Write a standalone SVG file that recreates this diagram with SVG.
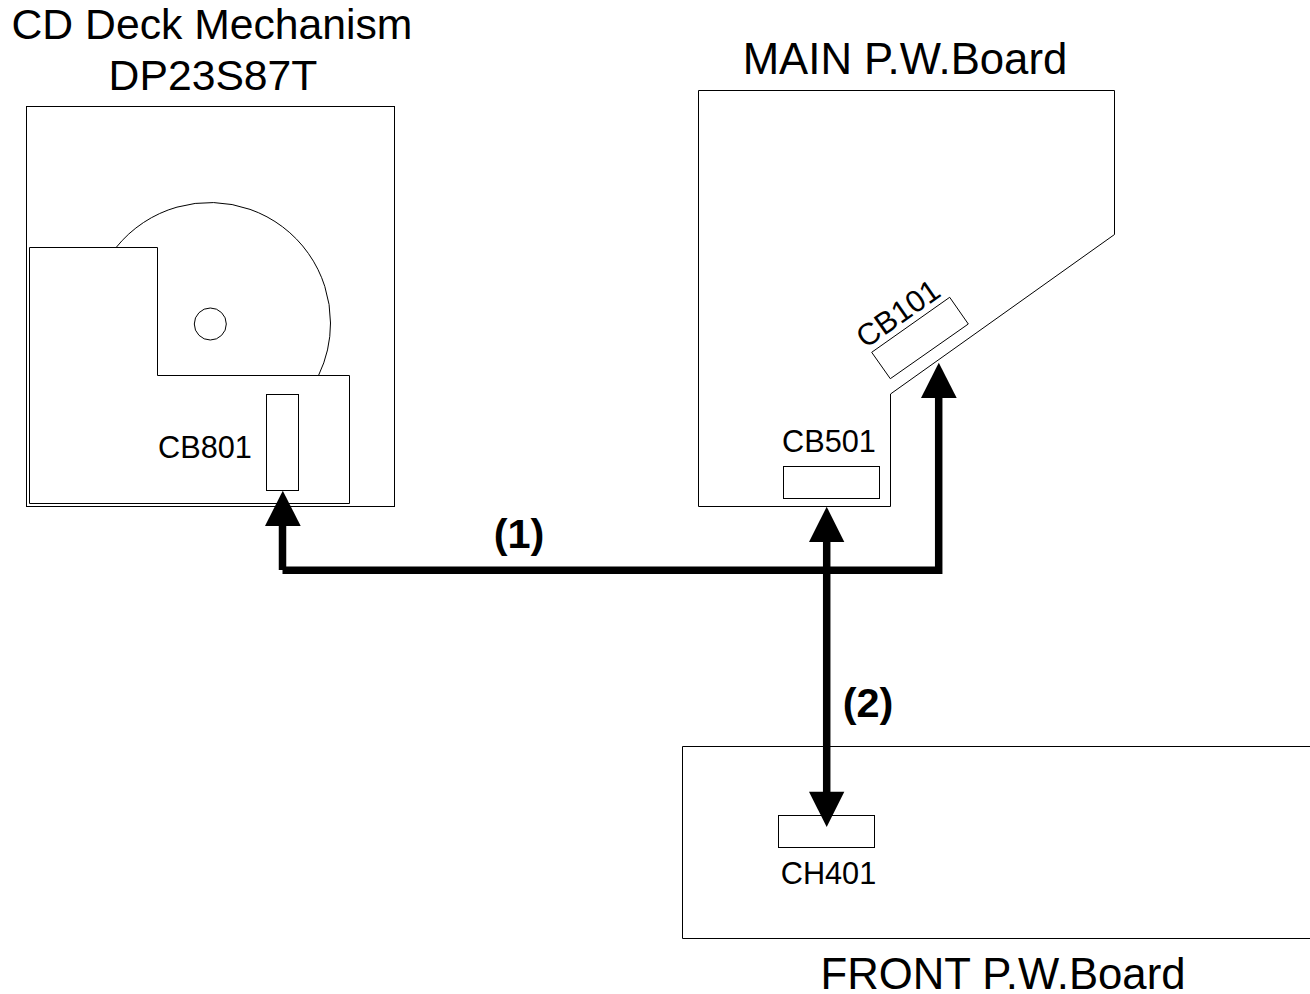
<svg xmlns="http://www.w3.org/2000/svg" width="1310" height="994" viewBox="0 0 1310 994">
<style>
.o{fill:none;stroke:#000;stroke-width:1}
.c{stroke:#000;stroke-width:7.500;fill:none}
.a{fill:#000;stroke:none}
text{font-family:"Liberation Sans",Arial,sans-serif;fill:#000}
.t{font-size:43.700px;text-anchor:middle}
.d{font-size:42.700px;text-anchor:middle}
.s{font-size:30.700px;text-anchor:middle}
.b{font-size:41.500px;font-weight:bold;text-anchor:middle}
</style>
<rect width="1310" height="994" fill="#fff"/>
<g id="cd-deck">
<rect class="o" x="26.500" y="106.500" width="368" height="400"/>
<path class="o" d="M116.100 247.500A120.500 120.500 0 0 1 330.500 323A120.500 120.500 0 0 1 318.500 375.500"/>
<circle class="o" cx="210.300" cy="324" r="16"/>
<path class="o" d="M29.500 247.500H157.500V375.500H349.500V503.500H29.500Z"/>
<text class="d" x="212" y="39">CD Deck Mechanism</text>
<text class="d" x="213" y="90">DP23S87T</text>
</g>
<g id="cb801"><rect class="o" x="266.500" y="394.500" width="32" height="96"/><text class="s" x="205" y="458">CB801</text></g>
<g id="main-board">
<path class="o" d="M698.500 90.500H1114.500V234.500L890.500 394V506.500H698.500Z"/>
<text class="t" x="905" y="74">MAIN P.W.Board</text>
</g>
<g id="cb101"><path class="o" d="M871.700 352.300L949.700 297.300L968.300 324L890.300 378.700Z"/><text class="s" transform="translate(904 322) rotate(-35)">CB101</text></g>
<g id="cb501"><rect class="o" x="783.500" y="466.500" width="96" height="32"/><text class="s" x="829" y="452">CB501</text></g>
<g id="front-board">
<path class="o" d="M1310 746.500H682.500V938.500H1310"/>
<text class="t" x="1003" y="989">FRONT P.W.Board</text>
</g>
<g id="ch401"><rect class="o" x="778.500" y="815.500" width="96" height="32"/><text class="s" x="828.500" y="884">CH401</text></g>
<g id="connectors">
<path class="c" d="M282.500 520V570"/>
<path class="c" d="M282.500 570.300H938.700V395"/>
<path class="c" d="M826.700 540V796"/>
<path class="a" d="M282.800 490.700L300.700 526H265Z"/>
<path class="a" d="M938.800 362.700L956.700 398H921Z"/>
<path class="a" d="M826.700 506.700L844.300 542H809Z"/>
<path class="a" d="M826.700 827L809 791.700H844.300Z"/>
<text class="b" x="519" y="548">(1)</text>
<text class="b" x="868" y="716.500">(2)</text>
</g>
</svg>
